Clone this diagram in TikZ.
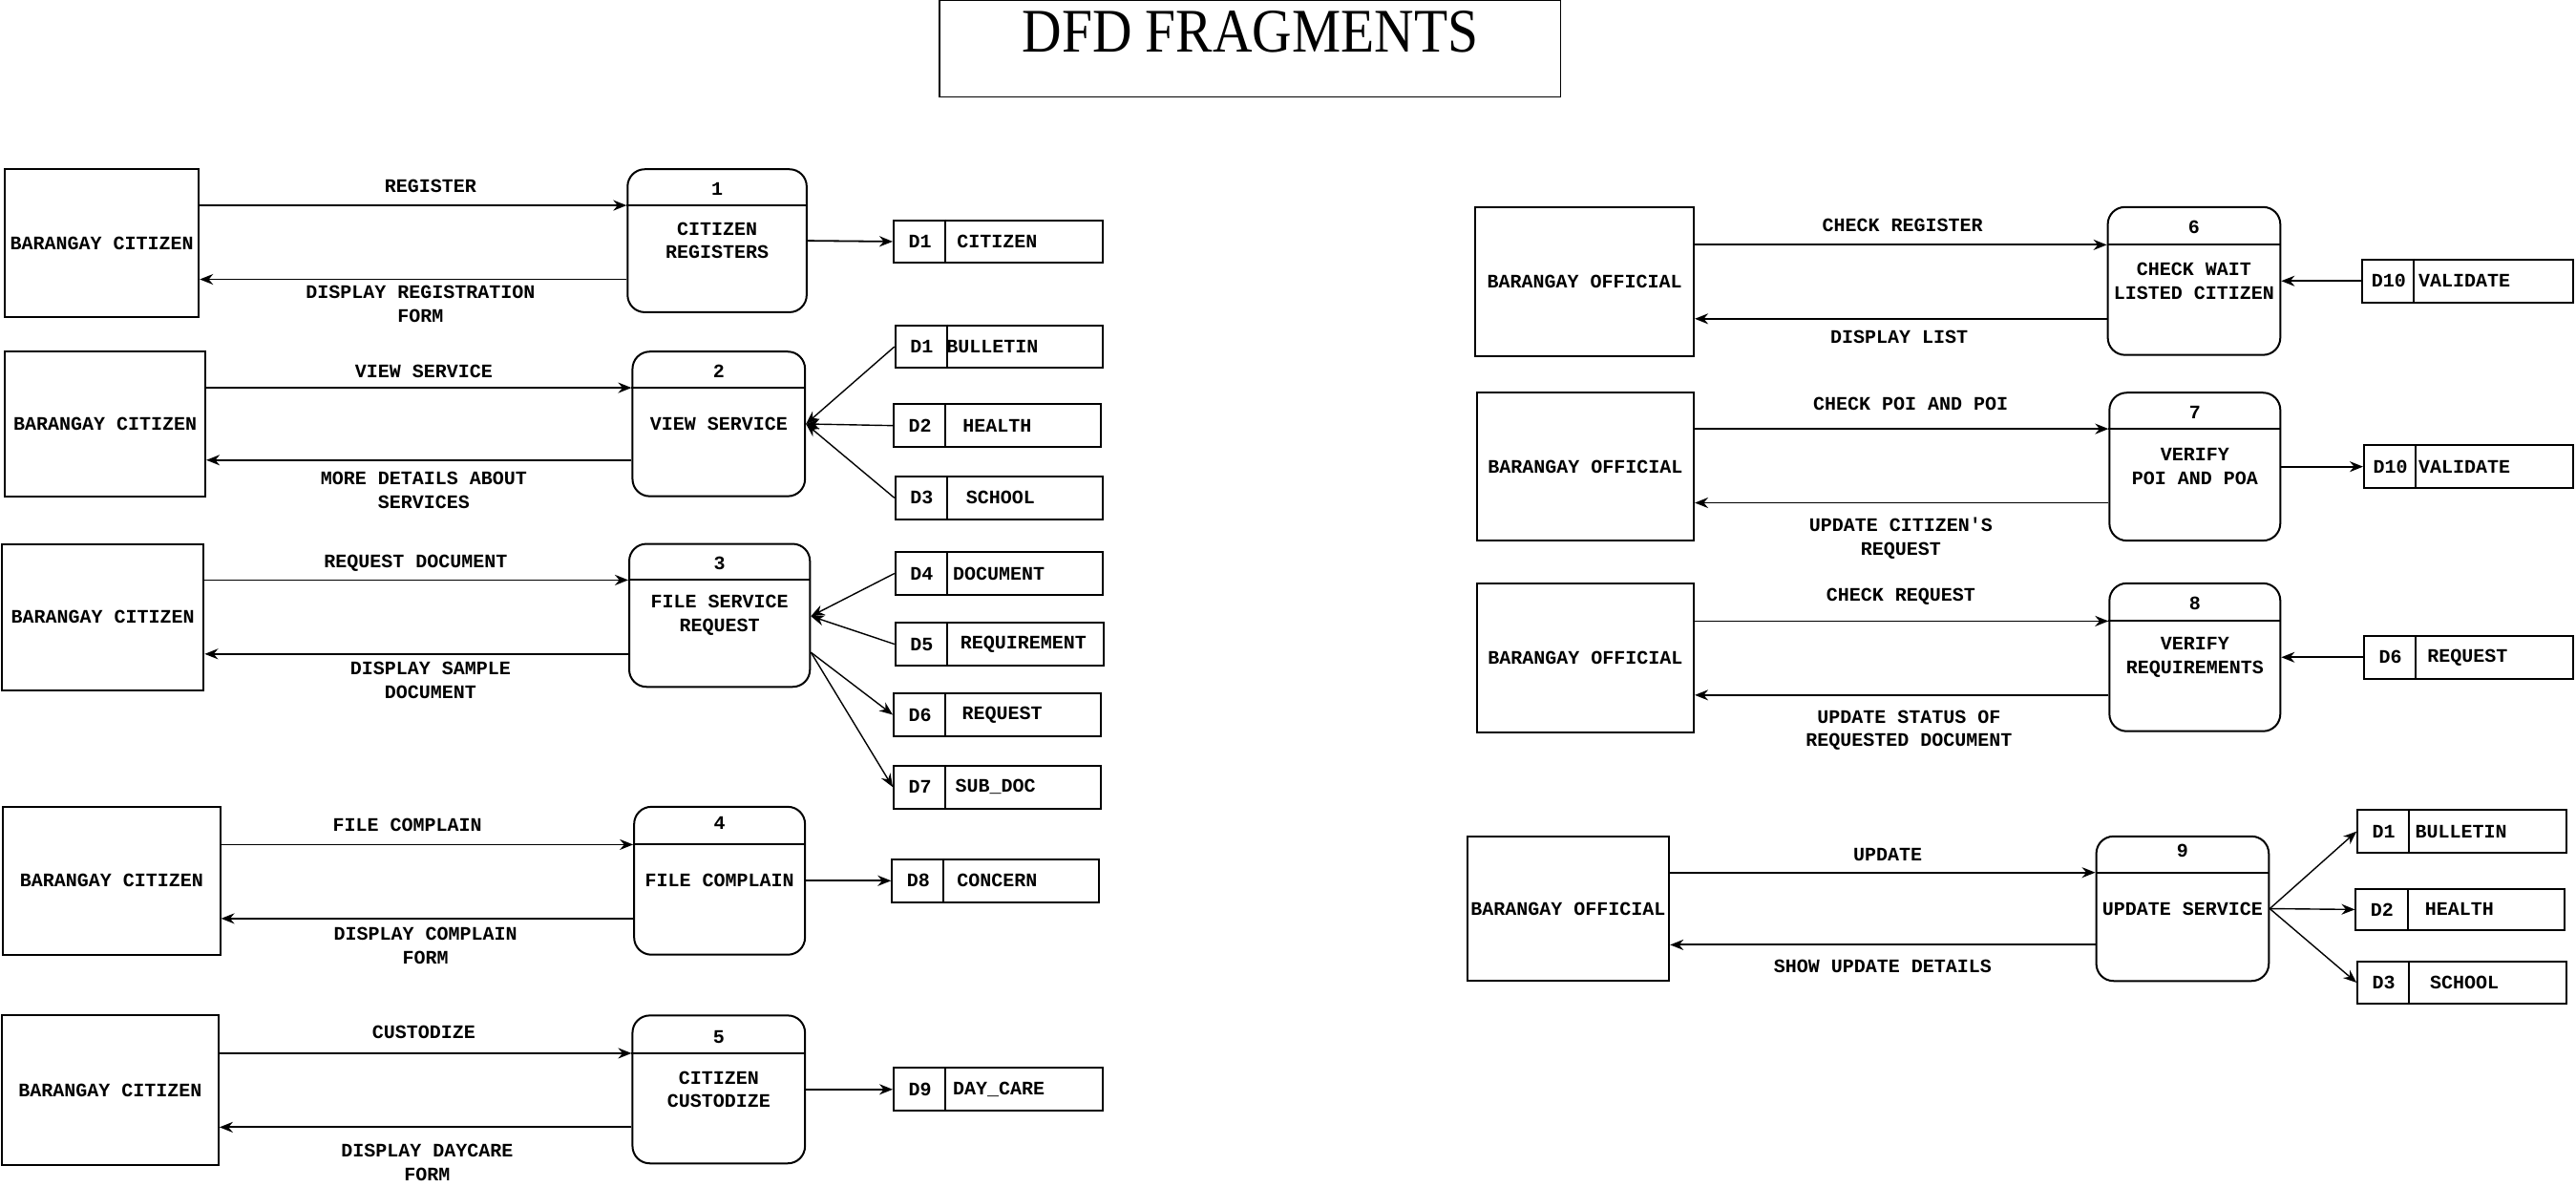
\documentclass[tikz,border=0pt]{standalone}
\usepackage{fontspec}
\setmainfont{Liberation Serif}
\newfontfamily\dfdmono{Liberation Mono}
\usetikzlibrary{arrows.meta}
\newcommand\U{1.7207}
\newcommand\dfdf{\dfdmono\bfseries\fontsize{20}{24.5}\selectfont}
\tikzset{
 divline/.style={line width=2pt},
 ent/.style={draw, line width=2pt, inner sep=0pt, font=\dfdf, align=center},
 proc/.style={draw, line width=2pt, rounded corners=18pt, inner sep=0pt, font=\dfdf, align=center},
 store/.style={draw, line width=2pt, inner sep=0pt},
 txt/.style={inner sep=0pt, font=\dfdf, align=center},
 flow/.style={line width=1.8pt, -{Stealth[length=14pt,width=11pt]}},
 sflow/.style={line width=1.4pt, -{Stealth[length=14pt,width=11pt]}},
}
% name x1 y1 x2 y2 text
\newcommand\Ent[6]{\node[ent, minimum width={(#4-#2)*\U pt}, minimum height={(#5-#3)*\U pt}] (#1) at ({(#2+#4)/2},{(#3+#5)/2}) {#6};}
% name x1 y1 x2 y2 divider-y number-y number text
\newcommand\Proc[9]{%
 \node[proc, minimum width={(#4-#2)*\U pt}, minimum height={(#5-#3)*\U pt}] (#1) at ({(#2+#4)/2},{(#3+#5)/2}) {#9};
 \draw[divline] (#1.west |- 0,#6) -- (#1.east |- 0,#6);
 \node[txt] (#1-n) at ({(#2+#4)/2},#7) {#8};}
% name x1 y1 x2 y2 id label label-x
\newcommand\Store[8]{%
 \node[store, minimum width={(#4-#2)*\U pt}, minimum height={(#5-#3)*\U pt}] (#1) at ({(#2+#4)/2},{(#3+#5)/2}) {};
 \draw[divline] ([xshift={32*\U pt}]#1.north west) -- ([xshift={32*\U pt}]#1.south west);
 \node[txt] (#1-id) at ({#2+16},{(#3+#5)/2}) {#6};
 \node[txt] (#1-nm) at (#8,{(#3+#5)/2}) {#7};}
\begin{document}
\begin{tikzpicture}[x=1.7207pt, y=-1.7207pt]
\useasboundingbox (0,0) rectangle (1568,722);
% title
\node[draw, line width=1.6pt, minimum width={378*\U pt}, minimum height={59*\U pt}] (title) at (761,29.5) {};
\node[inner sep=0pt] (titletext) at (761,19.5) {\fontsize{57.5}{60}\selectfont\scalebox{1}[1.13]{DFD FRAGMENTS}};

% ---------- row 1
\Ent{E1}{3}{103}{121}{193}{BARANGAY CITIZEN}
\Proc{P1}{382}{103}{491}{190}{125}{115}{1}{CITIZEN\\REGISTERS}
\Store{S1}{544}{134}{671}{160}{D1}{CITIZEN}{607}
\draw[flow] (E1.east |- 0,125) -- (P1.west |- 0,125);
\draw[flow] (P1.west |- 0,170) -- (E1.east |- 0,170);
\node[txt] (L1a) at (262,113) {REGISTER};
\node[txt] (L1b) at (256,185) {DISPLAY REGISTRATION\\FORM};
\draw[flow] (P1.east) -- (S1.west);

% ---------- row 2
\Ent{E2}{3}{214}{125}{302}{BARANGAY CITIZEN}
\Proc{P2}{385}{214}{490}{302}{236}{226}{2}{VIEW SERVICE}
\Store{S2a}{545}{198}{671}{224}{D1}{BULLETIN}{604}
\Store{S2b}{544}{246}{670}{272}{D2}{HEALTH}{607}
\Store{S2c}{545}{290}{671}{316}{D3}{SCHOOL}{609}
\draw[flow] (E2.east |- 0,236) -- (P2.west |- 0,236);
\draw[flow] (P2.west |- 0,280) -- (E2.east |- 0,280);
\node[txt] (L2a) at (258,226) {VIEW SERVICE};
\node[txt] (L2b) at (258,298.5) {MORE DETAILS ABOUT\\SERVICES};
\draw[sflow] (S2a.west) -- (P2.east);
\draw[sflow] (S2b.west) -- (P2.east);
\draw[sflow] (S2c.west) -- (P2.east);

% ---------- row 3
\Ent{E3}{1}{331}{124}{420}{BARANGAY CITIZEN}
\Proc{P3}{383}{331}{493}{418}{353}{343}{3}{FILE SERVICE\\REQUEST}
\Store{S3a}{545}{336}{671}{362}{D4}{DOCUMENT}{608}
\Store{S3b}{545}{379}{672}{405}{D5}{REQUIREMENT}{623}
\Store{S3c}{544}{422}{670}{448}{D6}{REQUEST}{610}
\Store{S3d}{544}{466}{670}{492}{D7}{SUB\_DOC}{606}
\draw[flow] (E3.east |- 0,353) -- (P3.west |- 0,353);
\draw[flow] (P3.west |- 0,398) -- (E3.east |- 0,398);
\node[txt] (L3a) at (253,343) {REQUEST DOCUMENT};
\node[txt] (L3b) at (262,414) {DISPLAY SAMPLE\\DOCUMENT};
\draw[sflow] (S3a.west) -- (P3.east |- 0,375);
\draw[sflow] (S3b.west) -- (P3.east |- 0,375);
\draw[sflow] (P3.east |- 0,397) -- (S3c.west);
\draw[sflow] (P3.east |- 0,397) -- (S3d.west);

% ---------- row 4
\Ent{E4}{2}{491}{134}{581}{BARANGAY CITIZEN}
\Proc{P4}{386}{491}{490}{581}{514}{501}{4}{FILE COMPLAIN}
\Store{S4}{543}{523}{669}{549}{D8}{CONCERN}{607}
\draw[flow] (E4.east |- 0,514) -- (P4.west |- 0,514);
\draw[flow] (P4.west |- 0,559) -- (E4.east |- 0,559);
\node[txt] (L4a) at (248,502) {FILE COMPLAIN};
\node[txt] (L4b) at (259,575.5) {DISPLAY COMPLAIN\\FORM};
\draw[flow] (P4.east) -- (S4.west);

% ---------- row 5
\Ent{E5}{1}{618}{133}{709}{BARANGAY CITIZEN}
\Proc{P5}{385}{618}{490}{708}{641}{631}{5}{CITIZEN\\CUSTODIZE}
\Store{S5}{544}{650}{671}{676}{D9}{DAY\_CARE}{608}
\draw[flow] (E5.east |- 0,641) -- (P5.west |- 0,641);
\draw[flow] (P5.west |- 0,686) -- (E5.east |- 0,686);
\node[txt] (L5a) at (258,628) {CUSTODIZE};
\node[txt] (L5b) at (260,707.5) {DISPLAY DAYCARE\\FORM};
\draw[flow] (P5.east) -- (S5.west);

% ---------- row 6
\Ent{E6}{898}{126}{1031}{217}{BARANGAY OFFICIAL}
\Proc{P6}{1283}{126}{1388}{216}{149}{138}{6}{CHECK WAIT\\LISTED CITIZEN}
\Store{S6}{1438}{158}{1566}{184}{D10}{VALIDATE}{1500}
\draw[flow] (E6.east |- 0,149) -- (P6.west |- 0,149);
\draw[flow] (P6.west |- 0,194) -- (E6.east |- 0,194);
\node[txt] (L6a) at (1158,137) {CHECK REGISTER};
\node[txt] (L6b) at (1156,205) {DISPLAY LIST};
\draw[flow] (S6.west) -- (P6.east);

% ---------- row 7
\Ent{E7}{899}{239}{1031}{329}{BARANGAY OFFICIAL}
\Proc{P7}{1284}{239}{1388}{329}{261}{251}{7}{VERIFY\\POI AND POA}
\Store{S7}{1439}{271}{1566}{297}{D10}{VALIDATE}{1500}
\draw[flow] (E7.east |- 0,261) -- (P7.west |- 0,261);
\draw[flow] (P7.west |- 0,306) -- (E7.east |- 0,306);
\node[txt] (L7a) at (1163,246) {CHECK POI AND POI};
\node[txt] (L7b) at (1157,327.5) {UPDATE CITIZEN\char"27 S\\REQUEST};
\draw[flow] (P7.east) -- (S7.west);

% ---------- row 8
\Ent{E8}{899}{355}{1031}{446}{BARANGAY OFFICIAL}
\Proc{P8}{1284}{355}{1388}{445}{378}{367}{8}{VERIFY\\REQUIREMENTS}
\Store{S8}{1439}{387}{1566}{413}{D6}{REQUEST}{1502}
\draw[flow] (E8.east |- 0,378) -- (P8.west |- 0,378);
\draw[flow] (P8.west |- 0,423) -- (E8.east |- 0,423);
\node[txt] (L8a) at (1157,363) {CHECK REQUEST};
\node[txt] (L8b) at (1162,444.5) {UPDATE STATUS OF\\REQUESTED DOCUMENT};
\draw[flow] (S8.west) -- (P8.east);

% ---------- row 9
\Ent{E9}{893}{509}{1016}{597}{BARANGAY OFFICIAL}
\Proc{P9}{1276}{509}{1381}{597}{531}{518}{9}{UPDATE SERVICE}
\Store{S9a}{1435}{493}{1562}{519}{D1}{BULLETIN}{1498}
\Store{S9b}{1434}{541}{1561}{566}{D2}{HEALTH}{1497}
\Store{S9c}{1435}{585}{1562}{611}{D3}{SCHOOL}{1500}
\draw[flow] (E9.east |- 0,531) -- (P9.west |- 0,531);
\draw[flow] (P9.west |- 0,575) -- (E9.east |- 0,575);
\node[txt] (L9a) at (1149,520) {UPDATE};
\node[txt] (L9b) at (1146,588) {SHOW UPDATE DETAILS};
\draw[sflow] (P9.east) -- (S9a.west);
\draw[sflow] (P9.east) -- (S9b.west);
\draw[sflow] (P9.east) -- (S9c.west);
\end{tikzpicture}
\end{document}
